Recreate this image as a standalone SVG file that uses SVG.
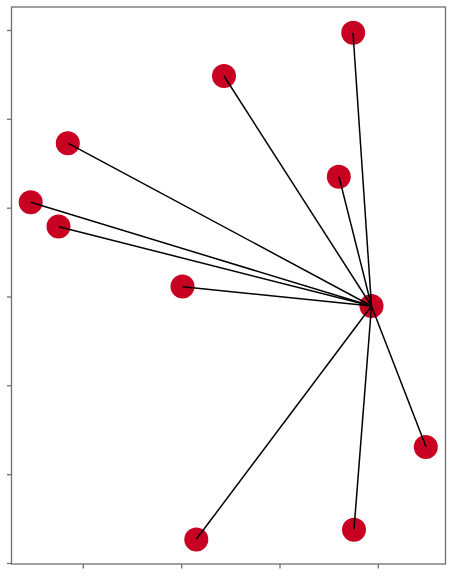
<svg xmlns="http://www.w3.org/2000/svg" width="453" height="576" viewBox="0 0 453 576">
<style>
.frame{fill:none;stroke:#6e6e6e;stroke-width:1.3}
.tick{stroke:#6e6e6e;stroke-width:1.3}
.node{fill:#c80022}
.edge{stroke:#000;stroke-width:1.5;fill:none}
</style>
<rect width="453" height="576" fill="#fff"/>
<g id="axes">
<rect class="frame" x="11.5" y="7" width="434" height="557"/>
<line class="tick" x1="7" y1="30.5" x2="11.5" y2="30.5"/>
<line class="tick" x1="7" y1="119.3" x2="11.5" y2="119.3"/>
<line class="tick" x1="7" y1="208.2" x2="11.5" y2="208.2"/>
<line class="tick" x1="7" y1="297" x2="11.5" y2="297"/>
<line class="tick" x1="7" y1="385.8" x2="11.5" y2="385.8"/>
<line class="tick" x1="7" y1="474.7" x2="11.5" y2="474.7"/>
<line class="tick" x1="7" y1="563.5" x2="11.5" y2="563.5"/>
<line class="tick" x1="83.3" y1="564" x2="83.3" y2="568.5"/>
<line class="tick" x1="181.7" y1="564" x2="181.7" y2="568.5"/>
<line class="tick" x1="280" y1="564" x2="280" y2="568.5"/>
<line class="tick" x1="378.3" y1="564" x2="378.3" y2="568.5"/>
</g>
<g id="nodes">
<g id="n0"><circle class="node" cx="371.5" cy="306" r="12"/></g>
<g id="n1"><circle class="node" cx="353.2" cy="32.7" r="12"/></g>
<g id="n2"><circle class="node" cx="224" cy="76" r="12"/></g>
<g id="n3"><circle class="node" cx="67.8" cy="143.3" r="12"/></g>
<g id="n4"><circle class="node" cx="338.8" cy="176.7" r="12"/></g>
<g id="n5"><circle class="node" cx="30.7" cy="202.3" r="12"/></g>
<g id="n6"><circle class="node" cx="58.5" cy="226.5" r="12"/></g>
<g id="n7"><circle class="node" cx="182.5" cy="286.5" r="12"/></g>
<g id="n8"><circle class="node" cx="425.8" cy="447" r="12"/></g>
<g id="n9"><circle class="node" cx="354" cy="529.7" r="12"/></g>
<g id="n10"><circle class="node" cx="196.3" cy="539.5" r="12"/></g>
</g>
<g id="edges">
<line class="edge" x1="371.5" y1="306" x2="353" y2="32.7"/>
<line class="edge" x1="371.5" y1="306" x2="224" y2="76"/>
<line class="edge" x1="371.5" y1="306" x2="68.3" y2="143.3"/>
<line class="edge" x1="371.5" y1="306" x2="339" y2="176.7"/>
<line class="edge" x1="371.5" y1="306" x2="30.7" y2="202.3"/>
<line class="edge" x1="371.5" y1="306" x2="59" y2="226.7"/>
<line class="edge" x1="371.5" y1="306" x2="182.7" y2="286.7"/>
<line class="edge" x1="371.5" y1="306" x2="426" y2="446.7"/>
<line class="edge" x1="371.5" y1="306" x2="354" y2="529.3"/>
<line class="edge" x1="371.5" y1="306" x2="196.3" y2="539.3"/>
</g>
</svg>
